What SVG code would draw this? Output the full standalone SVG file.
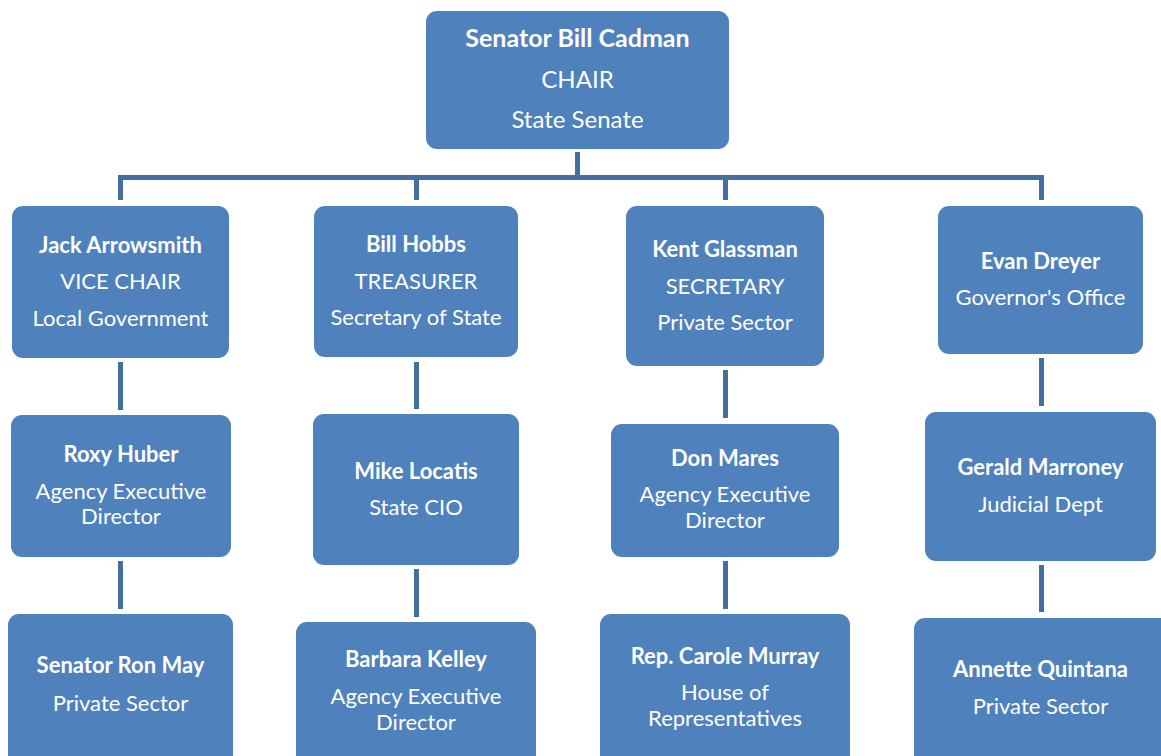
<svg xmlns="http://www.w3.org/2000/svg" width="1161" height="756" viewBox="0 0 1161 756">
<style>
.box{fill:#4F81BD;}
.c{stroke:#44709F;stroke-width:5;fill:none;}
text{font-family:Lato,"Open Sans",sans-serif;font-size:22px;fill:#FFFFFF;text-anchor:middle;}
.b{font-weight:bold;}
.t{font-size:24px;}
.tb{font-size:25px;font-weight:bold;}
</style>
<rect width="1161" height="756" fill="#FFFFFF"/>
<g id="connectors">
<path class="c" d="M577.5 152V178M118 177.5H1044M120.5 175V200M416.5 175V200M725.5 175V200M1041.5 175V200"/>
<path class="c" d="M120.5 362V410M120.5 561V609"/>
<path class="c" d="M416.5 362V409M416.5 569V617"/>
<path class="c" d="M725.5 370V418M725.5 561V609"/>
<path class="c" d="M1041.5 358V406M1041.5 565V612"/>
</g>
<g id="chair"><rect class="box" x="426" y="11" width="303" height="138" rx="11"/>
<text class="tb" x="577.5" y="47">Senator Bill Cadman</text><text class="t" x="577.5" y="88">CHAIR</text><text class="t" x="577.5" y="128">State Senate</text></g>
<g id="arrowsmith"><rect class="box" x="12" y="206" width="217" height="152" rx="11"/>
<text class="b" x="120.5" y="253">Jack Arrowsmith</text><text x="120.5" y="289">VICE CHAIR</text><text x="120.5" y="326">Local Government</text></g>
<g id="hobbs"><rect class="box" x="314" y="206" width="204" height="151" rx="11"/>
<text class="b" x="416" y="252">Bill Hobbs</text><text x="416" y="289">TREASURER</text><text x="416" y="325">Secretary of State</text></g>
<g id="glassman"><rect class="box" x="626" y="206" width="198" height="160" rx="11"/>
<text class="b" x="725" y="257">Kent Glassman</text><text x="725" y="294">SECRETARY</text><text x="725" y="330">Private Sector</text></g>
<g id="dreyer"><rect class="box" x="938" y="206" width="205" height="148" rx="11"/>
<text class="b" x="1040.5" y="269">Evan Dreyer</text><text x="1040.5" y="305">Governor's Office</text></g>
<g id="huber"><rect class="box" x="11" y="415" width="220" height="142" rx="11"/>
<text class="b" x="121" y="462">Roxy Huber</text><text x="121" y="499">Agency Executive</text><text x="121" y="524">Director</text></g>
<g id="locatis"><rect class="box" x="313" y="414" width="206" height="151" rx="11"/>
<text class="b" x="416" y="479">Mike Locatis</text><text x="416" y="515">State CIO</text></g>
<g id="mares"><rect class="box" x="611" y="424" width="228" height="133" rx="11"/>
<text class="b" x="725" y="466">Don Mares</text><text x="725" y="502">Agency Executive</text><text x="725" y="528">Director</text></g>
<g id="marroney"><rect class="box" x="925" y="412" width="231" height="149" rx="11"/>
<text class="b" x="1040.5" y="475">Gerald Marroney</text><text x="1040.5" y="512">Judicial Dept</text></g>
<g id="may"><rect class="box" x="8" y="614" width="225" height="160" rx="11"/>
<text class="b" x="120.5" y="673">Senator Ron May</text><text x="120.5" y="711">Private Sector</text></g>
<g id="kelley"><rect class="box" x="296" y="622" width="240" height="150" rx="11"/>
<text class="b" x="416" y="667">Barbara Kelley</text><text x="416" y="704">Agency Executive</text><text x="416" y="730">Director</text></g>
<g id="murray"><rect class="box" x="600" y="614" width="250" height="160" rx="11"/>
<text class="b" x="725" y="664">Rep. Carole Murray</text><text x="725" y="700">House of</text><text x="725" y="726">Representatives</text></g>
<g id="quintana"><rect class="box" x="914" y="618" width="260" height="160" rx="11"/>
<text class="b" x="1040.5" y="677">Annette Quintana</text><text x="1040.5" y="714">Private Sector</text></g>
</svg>
